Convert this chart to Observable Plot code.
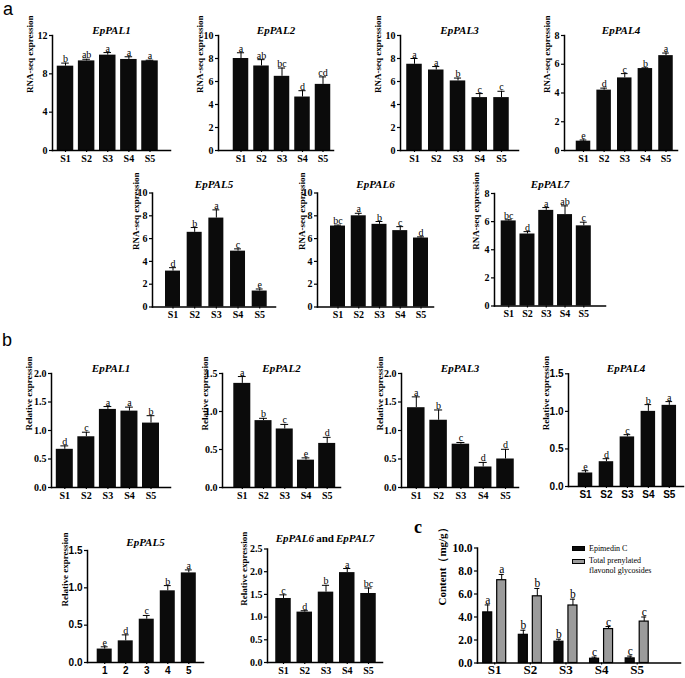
<!DOCTYPE html>
<html><head><meta charset="utf-8">
<script src="https://cdn.jsdelivr.net/npm/d3@7"></script>
<script src="https://cdn.jsdelivr.net/npm/@observablehq/plot@0.6"></script>
<style>
html,body{margin:0;padding:0;background:#fff;overflow:hidden}
#fig{position:relative;width:685px;height:678px;overflow:hidden;background:#fff}
.plab{position:absolute;line-height:1;color:#000;white-space:nowrap}
.sw{position:absolute;border:1px solid #000;box-sizing:border-box}
</style></head><body><div id="fig"></div>
<script>
// ---------- data ----------
const stages = ["S1","S2","S3","S4","S5"];
const stageNums = ["1","2","3","4","5"];

// panel a: RNA-seq expression
const rnaPAL1 = [8.8, 9.35, 9.95, 9.5, 9.35];
const rnaPAL1SD = [0.32, 0.17, 0.27, 0.28, 0.07];
const rnaPAL1Sig = ["b","ab","a","a","a"];
const rnaPAL2 = [8.0, 7.35, 6.45, 4.65, 5.75];
const rnaPAL2SD = [0.5, 0.55, 0.72, 0.55, 0.65];
const rnaPAL2Sig = ["a","ab","bc","d","cd"];
const rnaPAL3 = [7.5, 7.0, 6.05, 4.6, 4.6];
const rnaPAL3SD = [0.5, 0.3, 0.25, 0.35, 0.55];
const rnaPAL3Sig = ["a","a","b","c","c"];
const rnaPAL4 = [0.65, 4.2, 5.05, 5.7, 6.6];
const rnaPAL4SD = [0.08, 0.14, 0.3, 0.05, 0.18];
const rnaPAL4Sig = ["e","d","c","b","a"];
const rnaPAL5 = [3.15, 6.55, 7.8, 4.9, 1.4];
const rnaPAL5SD = [0.3, 0.42, 0.72, 0.2, 0.18];
const rnaPAL5Sig = ["d","b","a","c","e"];
const rnaPAL6 = [7.1, 8.0, 7.25, 6.7, 6.05];
const rnaPAL6SD = [0.08, 0.22, 0.25, 0.35, 0.1];
const rnaPAL6Sig = ["bc","a","b","c","d"];
const rnaPAL7 = [6.05, 5.12, 6.8, 6.5, 5.7];
const rnaPAL7SD = [0.08, 0.17, 0.2, 0.62, 0.26];
const rnaPAL7Sig = ["bc","d","a","ab","c"];

// panel b: relative expression (qRT-PCR)
const relPAL1 = [0.67, 0.89, 1.37, 1.34, 1.13];
const relPAL1SD = [0.06, 0.08, 0.05, 0.07, 0.13];
const relPAL1Sig = ["d","c","a","a","b"];
const relPAL2 = [1.37, 0.88, 0.77, 0.36, 0.58];
const relPAL2SD = [0.09, 0.03, 0.06, 0.03, 0.08];
const relPAL2Sig = ["a","b","c","e","d"];
const relPAL3 = [1.4, 1.18, 0.76, 0.36, 0.5];
const relPAL3SD = [0.19, 0.18, 0.03, 0.08, 0.17];
const relPAL3Sig = ["a","b","c","d","d"];
const relPAL4 = [0.18, 0.33, 0.66, 1.0, 1.08];
const relPAL4SD = [0.03, 0.04, 0.03, 0.09, 0.05];
const relPAL4Sig = ["e","d","c","b","a"];
const relPAL5 = [0.18, 0.29, 0.58, 0.96, 1.2];
const relPAL5SD = [0.03, 0.08, 0.05, 0.07, 0.04];
const relPAL5Sig = ["e","d","c","b","a"];
const relPAL67 = [1.41, 1.11, 1.55, 1.98, 1.52];
const relPAL67SD = [0.08, 0.03, 0.15, 0.09, 0.12];
const relPAL67Sig = ["c","d","b","a","bc"];

// panel c: content (mg/g)
const epimedinC = [4.4, 2.45, 1.85, 0.37, 0.4];
const epimedinCSD = [0.65, 0.4, 0.22, 0.14, 0.2];
const epimedinCSig = ["a","b","b","c","c"];
const totalPFG = [7.2, 5.8, 5.0, 2.95, 3.6];
const totalPFGSD = [0.5, 0.68, 0.55, 0.22, 0.4];
const totalPFGSig = ["a","b","b","c","c"];
const seriesNames = ["Epimedin C", "Total prenylated\nflavonol glycosides"];

// tick values
const ticks12 = [0,4,8,12];
const ticks10 = [0,2,4,6,8,10];
const ticks8 = [0,2,4,6,8];
const ticks20 = [0,0.5,1,1.5,2];
const ticks15 = [0,0.5,1,1.5];
const ticks25 = [0,0.5,1,1.5,2,2.5];
const ticksC = [0,2,4,6,8,10];

// ---------- drawing ----------
const W = 685, H = 678;
const SERIF = "'Liberation Serif','Times New Roman',serif";
const SANS = "'Liberation Sans',Arial,sans-serif";
const fig = document.getElementById("fig");
const fInt = d3.format("d"), f1 = d3.format(".1f");

function place(svg){
  svg.style.position = "absolute"; svg.style.left = "0px"; svg.style.top = "0px";
  fig.appendChild(svg);
}

function titleMarks(title, dy){
  const it = {frameAnchor:"top", lineAnchor:"bottom", dy, fontSize:11, fontWeight:"bold", fill:"#000"};
  if (title.includes(" and ")) {
    const [t1, t2] = title.split(" and ");
    return [
      Plot.text([t1], {...it, fontStyle:"italic", textAnchor:"end", dx:-11}),
      Plot.text(["and"], {...it}),
      Plot.text([t2], {...it, fontStyle:"italic", textAnchor:"start", dx:11})
    ];
  }
  return [Plot.text([title], {...it, fontStyle:"italic"})];
}

function chart(d, L){
  const n = d.cats.length;
  const rows = d.cats.map((c,i)=>({c, v:d.mean[i], e:d.mean[i]+d.sd[i], s:d.sig[i]}));
  const step = (L.c5 - L.c1)/(n-1);
  const tf = L.sans ? SANS : SERIF;
  const svg = Plot.plot({
    width: W, height: H,
    marginLeft: L.left, marginRight: W - L.right, marginTop: L.top, marginBottom: H - L.bottom,
    style: {fontFamily: SERIF, fontSize: "10px", fontWeight: "bold", background: "transparent", color: "#000", overflow: "visible"},
    x: {type:"band", domain: d.cats, range:[L.c1 - L.bw/2, L.c5 + L.bw/2], paddingInner: 1 - L.bw/step, paddingOuter: 0, align: 0.5, round: false},
    y: {domain: d.domain},
    marks: [
      Plot.barY(rows, {x:"c", y:"v", fill:"#0b0b0b"}),
      Plot.ruleX(rows, {x:"c", y1:"v", y2:"e", stroke:"#000", strokeWidth:1}),
      Plot.tickY(rows, {x:"c", y:"e", stroke:"#000", strokeWidth:1, insetLeft: L.bw*0.27, insetRight: L.bw*0.27}),
      Plot.text(rows, {x:"c", y:"e", text:"s", lineAnchor:"bottom", dy:-1, fontWeight:"normal", fontSize:10, fill:"#000"}),
      Plot.axisY({ticks: d.ticks, tickFormat: d.fmt, tickSize:3, tickPadding:2, label:null, fontFamily: tf, strokeWidth:1.2}),
      Plot.axisX({tickSize:2, tickPadding:2, label:null, fontFamily: tf, strokeWidth:1.2}),
      Plot.frame({anchor:"left", stroke:"#000", strokeWidth:1.5}),
      Plot.frame({anchor:"bottom", stroke:"#000", strokeWidth:1.5}),
      ...titleMarks(d.title, L.tdy),
      Plot.text([d.yLabel], {frameAnchor:"left", rotate:-90, dx:-L.ldx, fontSize:9, fontWeight:"bold", fill:"#000"})
    ]
  });
  place(svg);
}

// panel a
chart({cats:stages, mean:rnaPAL1, sd:rnaPAL1SD, sig:rnaPAL1Sig, title:"EpPAL1", yLabel:"RNA-seq expression", domain:[0,12], ticks:ticks12, fmt:fInt},
      {left:52, right:170, top:35, bottom:150, c1:65, c5:149.5, bw:16.5, ldx:22, tdy:-2});
chart({cats:stages, mean:rnaPAL2, sd:rnaPAL2SD, sig:rnaPAL2Sig, title:"EpPAL2", yLabel:"RNA-seq expression", domain:[0,10], ticks:ticks10, fmt:fInt},
      {left:218, right:333, top:35, bottom:150, c1:240.5, c5:322.5, bw:15.5, ldx:18, tdy:-2});
chart({cats:stages, mean:rnaPAL3, sd:rnaPAL3SD, sig:rnaPAL3Sig, title:"EpPAL3", yLabel:"RNA-seq expression", domain:[0,10], ticks:ticks10, fmt:fInt},
      {left:400, right:518, top:35, bottom:150, c1:414, c5:501, bw:15.5, ldx:22.5, tdy:-2});
chart({cats:stages, mean:rnaPAL4, sd:rnaPAL4SD, sig:rnaPAL4Sig, title:"EpPAL4", yLabel:"RNA-seq expression", domain:[0,8], ticks:ticks8, fmt:fInt},
      {left:564, right:677, top:35, bottom:150, c1:583, c5:665.5, bw:14.5, ldx:17, tdy:-2});
chart({cats:stages, mean:rnaPAL5, sd:rnaPAL5SD, sig:rnaPAL5Sig, title:"EpPAL5", yLabel:"RNA-seq expression", domain:[0,10], ticks:ticks10, fmt:fInt},
      {left:152, right:275, top:192.5, bottom:306.5, c1:172.5, c5:259.2, bw:15, ldx:16, tdy:-5.5});
chart({cats:stages, mean:rnaPAL6, sd:rnaPAL6SD, sig:rnaPAL6Sig, title:"EpPAL6", yLabel:"RNA-seq expression", domain:[0,10], ticks:ticks10, fmt:fInt},
      {left:317, right:433, top:192.5, bottom:306.5, c1:337.5, c5:420.5, bw:15, ldx:15.5, tdy:-5.5});
chart({cats:stages, mean:rnaPAL7, sd:rnaPAL7SD, sig:rnaPAL7Sig, title:"EpPAL7", yLabel:"RNA-seq expression", domain:[0,8], ticks:ticks8, fmt:fInt},
      {left:494, right:605, top:193, bottom:305.5, c1:508.2, c5:583.3, bw:15, ldx:18, tdy:-6});

// panel b
chart({cats:stages, mean:relPAL1, sd:relPAL1SD, sig:relPAL1Sig, title:"EpPAL1", yLabel:"Relative expression", domain:[0,2], ticks:ticks20, fmt:f1},
      {left:51, right:170, top:373, bottom:487, c1:64.3, c5:150.5, bw:17, ldx:22.5, tdy:-2});
chart({cats:stages, mean:relPAL2, sd:relPAL2SD, sig:relPAL2Sig, title:"EpPAL2", yLabel:"Relative expression", domain:[0,1.5], ticks:ticks15, fmt:f1},
      {left:222, right:340, top:373, bottom:487, c1:241.8, c5:326.7, bw:17, ldx:17, tdy:-2});
chart({cats:stages, mean:relPAL3, sd:relPAL3SD, sig:relPAL3Sig, title:"EpPAL3", yLabel:"Relative expression", domain:[0,2], ticks:ticks20, fmt:f1},
      {left:401, right:518, top:373, bottom:487, c1:415.8, c5:505, bw:17.5, ldx:21.7, tdy:-2});
chart({cats:stages, mean:relPAL4, sd:relPAL4SD, sig:relPAL4Sig, title:"EpPAL4", yLabel:"Relative expression", domain:[0,1.5], ticks:ticks15, fmt:f1},
      {left:568, right:683, top:373.3, bottom:486, c1:585, c5:668.8, bw:14.5, ldx:22, tdy:-2, sans:true});
chart({cats:stageNums, mean:relPAL5, sd:relPAL5SD, sig:relPAL5Sig, title:"EpPAL5", yLabel:"Relative expression", domain:[0,1.5], ticks:ticks15, fmt:f1},
      {left:87, right:203, top:550, bottom:662, c1:104.2, c5:188.3, bw:15, ldx:22, tdy:-4.6, sans:true});
chart({cats:stages, mean:relPAL67, sd:relPAL67SD, sig:relPAL67Sig, title:"EpPAL6 and EpPAL7", yLabel:"Relative expression", domain:[0,2.5], ticks:ticks25, fmt:f1},
      {left:267, right:382, top:548.5, bottom:662, c1:283, c5:368, bw:15.5, ldx:23, tdy:-6.8});

// panel c (grouped)
(function(){
  const L = {left:477, right:680, top:547.5, bottom:662.5, c1:494.2, c5:636.7, bw:9, off:7};
  const step = (L.c5 - L.c1)/4;
  const rowsE = stages.map((c,i)=>({c, v:epimedinC[i], e:epimedinC[i]+epimedinCSD[i], s:epimedinCSig[i]}));
  const rowsT = stages.map((c,i)=>({c, v:totalPFG[i], e:totalPFG[i]+totalPFGSD[i], s:totalPFGSig[i]}));
  const grp = (rows, dx, fill) => [
    Plot.barY(rows, {x:"c", y:"v", fill, stroke:"#000", strokeWidth:1.2, dx}),
    Plot.ruleX(rows, {x:"c", y1:"v", y2:"e", stroke:"#000", strokeWidth:1, dx}),
    Plot.tickY(rows, {x:"c", y:"e", stroke:"#000", strokeWidth:1, insetLeft:2, insetRight:2, dx}),
    Plot.text(rows, {x:"c", y:"e", text:"s", lineAnchor:"bottom", dy:-1, dx, fontWeight:"normal", fontSize:11.5, fill:"#000"})
  ];
  const svg = Plot.plot({
    width: W, height: H,
    marginLeft: L.left, marginRight: W - L.right, marginTop: L.top, marginBottom: H - L.bottom,
    style: {fontFamily: SERIF, fontSize: "11px", fontWeight: "bold", background: "transparent", color: "#000", overflow: "visible"},
    x: {type:"band", domain: stages, range:[L.c1 - L.bw/2, L.c5 + L.bw/2], paddingInner: 1 - L.bw/step, paddingOuter: 0, align: 0.5, round:false},
    y: {domain:[0,10]},
    marks: [
      ...grp(rowsE, -L.off, "#0b0b0b"),
      ...grp(rowsT, L.off, "#9b9b9b"),
      Plot.axisY({ticks: ticksC, tickFormat: f1, tickSize:3, tickPadding:2, label:null, fontSize:11.5, strokeWidth:1.2}),
      Plot.axisX({tickSize:2, tickPadding:0, label:null, fontSize:13, strokeWidth:1.2}),
      Plot.frame({anchor:"left", stroke:"#000", strokeWidth:1.5}),
      Plot.frame({anchor:"bottom", stroke:"#000", strokeWidth:1.5}),
      Plot.text(["Content（mg/g）"], {frameAnchor:"left", rotate:-90, dx:-35, fontSize:11, fontWeight:"bold", fill:"#000"})
    ]
  });
  place(svg);
  // legend
  const leg = [
    {name: seriesNames[0], fill:"#0b0b0b", y:546},
    {name: seriesNames[1], fill:"#9b9b9b", y:558.5}
  ];
  leg.forEach(l => {
    const sw = document.createElement("div");
    sw.className = "sw";
    Object.assign(sw.style, {left:"572px", top:l.y+"px", width:"13px", height:"5px", background:l.fill});
    fig.appendChild(sw);
    const tx = document.createElement("div");
    tx.className = "plab";
    Object.assign(tx.style, {left:"589px", top:(l.y - 2.5)+"px", fontFamily:SERIF, fontSize:"8px", lineHeight:"9.5px", whiteSpace:"pre"});
    tx.textContent = l.name;
    fig.appendChild(tx);
  });
})();

// panel letters
[["a", 3, 0, SANS, 18, "normal"], ["b", 2, 331, SANS, 18, "normal"], ["c", 414, 518, SERIF, 18, "bold"]].forEach(([t,x,y,ff,fs,fw])=>{
  const el = document.createElement("div");
  el.className = "plab";
  Object.assign(el.style, {left:x+"px", top:y+"px", fontFamily:ff, fontSize:fs+"px", fontWeight:fw});
  el.textContent = t;
  fig.appendChild(el);
});
</script>
</body></html>
